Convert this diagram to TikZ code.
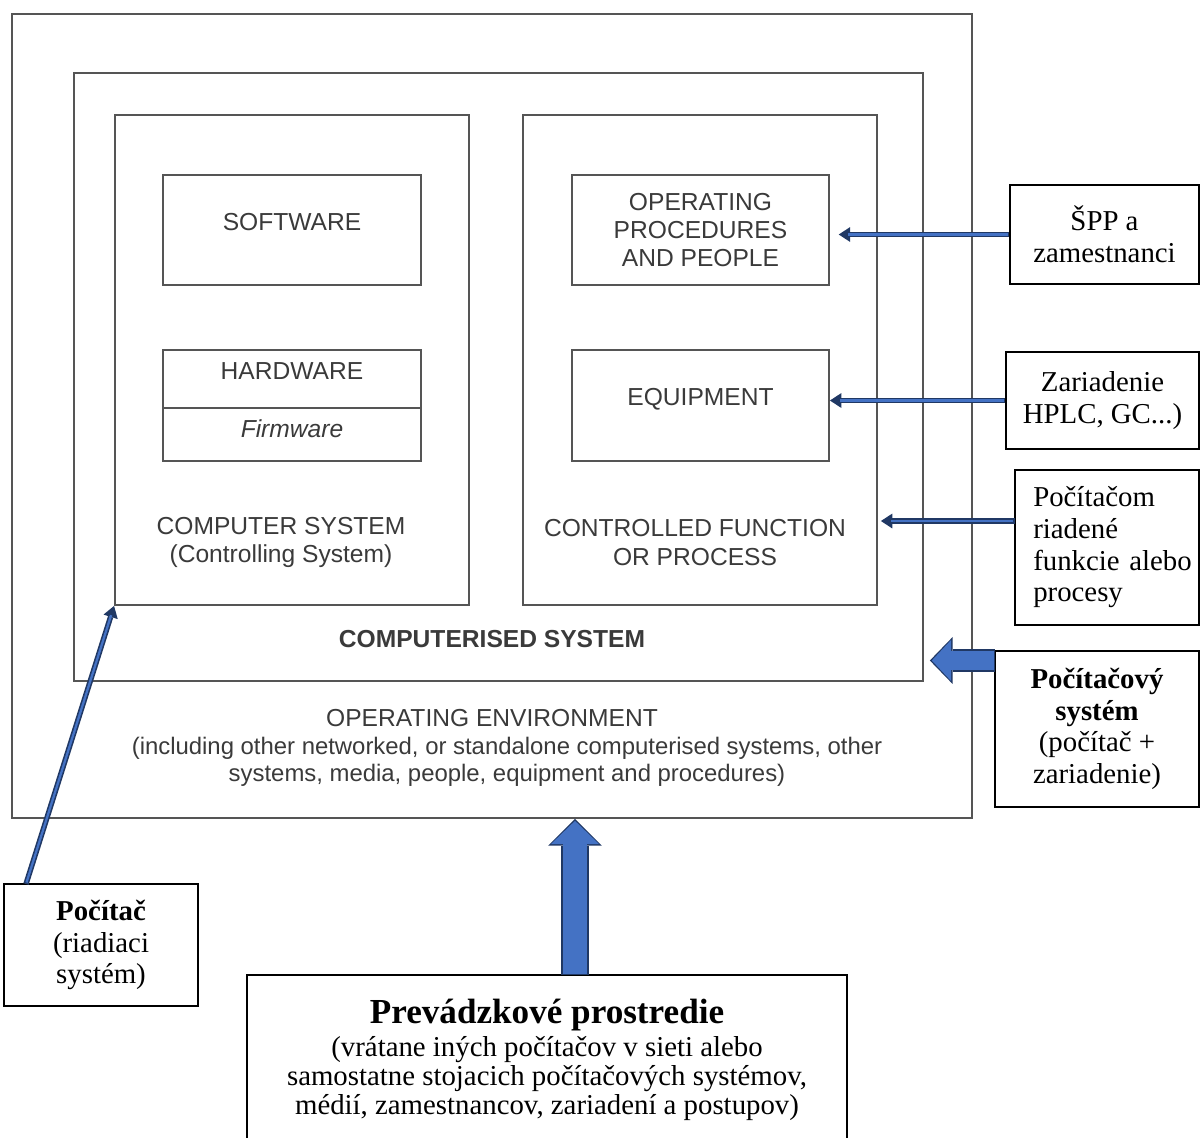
\documentclass[tikz,border=0pt]{standalone}
\usepackage{fontspec}
\setmainfont{Liberation Serif}
\setsansfont{Liberation Sans}
\usetikzlibrary{arrows.meta,positioning}

\definecolor{linegray}{HTML}{555555}
\definecolor{textgray}{HTML}{3A3A3A}
\definecolor{arrowblue}{HTML}{4472C4}
\definecolor{arrownavy}{HTML}{203864}

\begin{document}
\begin{tikzpicture}[x=0.02cm,y=-0.02cm]
\tikzstyle{frame}=[draw=linegray,line width=1.1pt,inner sep=0pt]
\tikzstyle{eng}=[font=\sffamily\fontsize{14}{16.2}\selectfont,text=textgray,align=center]
\tikzstyle{svk}=[draw=black,line width=0.8pt,font=\fontsize{16.4}{18}\selectfont,align=center,inner sep=0pt]
\tikzstyle{thinout}=[draw=arrownavy,line width=3.1pt,-{Triangle[width=8.5pt,length=6.5pt,line width=0pt]}]
\tikzstyle{thinin}=[draw=arrowblue,line width=1.3pt]

\useasboundingbox (0,0) rectangle (1200,1137);

% nested frames
\node[frame,minimum width=19.2cm,minimum height=16.08cm] (outer) at (492,416) {};
\node[frame,minimum width=16.98cm,minimum height=12.16cm] (compsys) at (498.5,377) {};
\node[frame,minimum width=7.08cm,minimum height=9.8cm] (ctrlsys) at (292,360) {};
\node[frame,minimum width=7.08cm,minimum height=9.8cm] (process) at (700,360) {};

% blocks inside
\node[frame,minimum width=5.16cm,minimum height=2.2cm,label={[eng,yshift=4.5pt]center:SOFTWARE}] (software) at (292,230) {};
\node[frame,minimum width=5.16cm,minimum height=1.16cm,label={[eng,yshift=4.5pt]center:HARDWARE}] (hardware) at (292,379) {};
\node[frame,minimum width=5.16cm,minimum height=1.06cm,label={[eng,yshift=3.4pt]center:\itshape Firmware}] (firmware) at (292,434.5) {};
\node[frame,eng,minimum width=5.14cm,minimum height=2.2cm] (procpeople) at (700.5,230) {OPERATING\\PROCEDURES\\AND PEOPLE};
\node[frame,minimum width=5.14cm,minimum height=2.22cm,label={[eng,yshift=3.4pt]center:EQUIPMENT}] (equipment) at (700.5,405.5) {};

% captions
\node[eng] (cstitle) at (281,542.5) {COMPUTER SYSTEM\\(Controlling System)};
\node[eng] (pctitle) at (695,542.5) {CONTROLLED FUNCTION\\OR PROCESS};
\node[eng,font=\sffamily\bfseries\fontsize{14}{16.2}\selectfont] (systitle) at (492,639) {COMPUTERISED SYSTEM};
\node[eng] (envtitle) at (492,718) {OPERATING ENVIRONMENT};
\node[eng,font=\sffamily\fontsize{13.6}{15.3}\selectfont] (envnote) at (507,762) {(including other networked, or standalone computerised systems, other\\systems, media, people, equipment and procedures)};

% slovak notes
\node[svk,minimum width=3.78cm,minimum height=1.98cm] (spp) at (1104.5,234.5) {ŠPP a\\zamestnanci};
\node[svk,minimum width=3.86cm,minimum height=1.94cm] (zar) at (1102.5,400.5) {Zariadenie\\HPLC, GC...)};
\node[svk,minimum width=3.68cm,minimum height=3.1cm,text width=2.95cm,align=left] (poc) at (1107,547.5) {Počítačom\\riadené\\funkcie~alebo\\procesy};
\node[svk,minimum width=4.08cm,minimum height=3.12cm] (pcs) at (1097,729) {\textbf{Počítačový}\\\textbf{systém}\\(počítač +\\zariadenie)};
\node[svk,minimum width=3.88cm,minimum height=2.44cm] (pc) at (101,945) {\textbf{Počítač}\\(riadiaci\\systém)};
\node[svk,minimum width=12cm,minimum height=3.4cm,font=\fontsize{16.4}{16.6}\selectfont] (envbox) at (547,1060) {{\fontsize{20}{22}\selectfont\bfseries Prevádzkové prostredie}\\[2pt](vrátane iných počítačov v sieti alebo\\samostatne stojacich počítačových systémov,\\médií, zamestnancov, zariadení a postupov)};

\coordinate (pocin) at (1015,521);
\coordinate (pcsin) at (995,660.5);
\coordinate (envin) at (575,975);
\coordinate (pcin) at (26,884);

% thin arrows
\draw[thinout,shorten >=5pt] (spp.west) -- (spp.west -| procpeople.east);
\draw[thinin,shorten >=10.5pt,shorten <=0.9pt] (spp.west) -- (spp.west -| procpeople.east);
\draw[thinout] (zar.west) -- (zar.west -| equipment.east);
\draw[thinin,shorten >=5.5pt,shorten <=0.9pt] (zar.west) -- (zar.west -| equipment.east);
\draw[thinout,shorten >=1.7pt] (pocin) -- (pocin -| process.east);
\draw[thinin,shorten >=7.2pt,shorten <=0.9pt] (pocin) -- (pocin -| process.east);
\draw[thinout] (pcin) -- (ctrlsys.south west);
\draw[thinin,shorten >=5.5pt,shorten <=0.9pt] (pcin) -- (ctrlsys.south west);

% block arrows
\draw[draw=arrownavy,line width=12.7pt,-{Triangle[width=26.6pt,length=12.9pt,line width=0pt]},shorten >=3.4pt] (pcsin) -- (pcsin -| compsys.east);
\draw[draw=arrowblue,line width=11.1pt,-{Triangle[width=23.4pt,length=11pt,line width=0pt]},shorten >=4.5pt,shorten <=0.8pt] (pcsin) -- (pcsin -| compsys.east);
\draw[draw=arrownavy,line width=15.5pt,-{Triangle[width=30.5pt,length=15.2pt,line width=0pt]}] (envin) -- (envin |- outer.south);
\draw[draw=arrowblue,line width=13.9pt,-{Triangle[width=27.3pt,length=13.2pt,line width=0pt]},shorten >=1.1pt,shorten <=0.8pt] (envin) -- (envin |- outer.south);
\end{tikzpicture}
\end{document}
